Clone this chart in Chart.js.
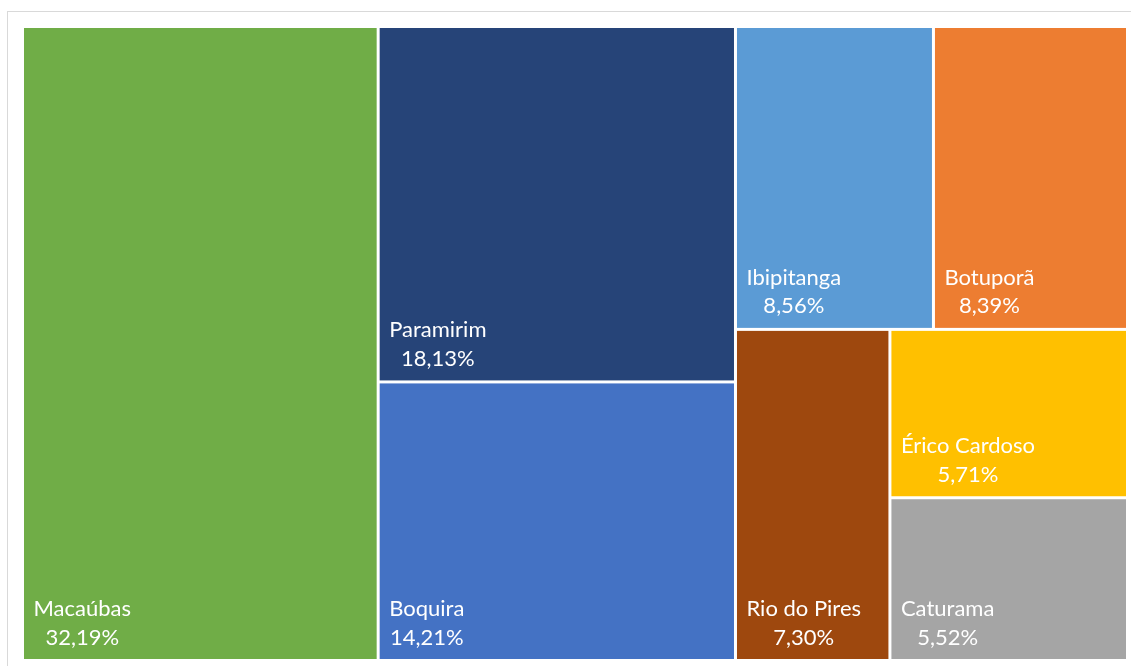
<!DOCTYPE html>
<html lang="pt-BR">
<head>
<meta charset="utf-8">
<script src="https://cdn.jsdelivr.net/npm/chart.js@4/dist/chart.umd.min.js"></script>
<style>
    html, body { margin: 0; padding: 0; background: #fff; overflow: hidden; }
    #frame {
        position: absolute; left: 7px; top: 11px;
        width: 1300px; height: 800px;
        border: 1px solid #d9d9d9;
    }
    #wrap { position: absolute; left: 0; top: 0; width: 1131px; height: 666px; }
</style>
</head>
<body>
<div id="frame"></div>
<div id="wrap"><canvas id="treemapChart"></canvas></div>
<script>
// Municípios e participação (%)
const categories = ["Macaúbas", "Paramirim", "Boquira", "Ibipitanga", "Botuporã", "Rio do Pires", "Érico Cardoso", "Caturama"];
const values = [32.19, 18.13, 14.21, 8.56, 8.39, 7.30, 5.71, 5.52];
const colors = ["#70AD47", "#264478", "#4472C4", "#5B9BD5", "#ED7D31", "#9E480E", "#FFC000", "#A5A5A5"];

// Agrupamento do treemap (h = lado a lado, v = empilhado), índices de categories
const groups = ["h", 0, ["v", 1, 2], ["v", ["h", 3, 4], ["h", 5, ["v", 6, 7]]]];

const sumOf = (node) => (typeof node === "number" ? values[node] : node.slice(1).reduce((s, n) => s + sumOf(n), 0));

// Calcula os retângulos em unidades de escala (0..100 nos dois eixos)
function buildRects(node, x0, y0, x1, y1, out) {
    if (typeof node === "number") {
        out.push({ i: node, x0, y0, x1, y1 });
        return out;
    }
    const dir = node[0];
    const kids = node.slice(1);
    const total = sumOf(node);
    let pos = dir === "h" ? x0 : y0;
    kids.forEach((k) => {
        const span = ((dir === "h" ? x1 - x0 : y1 - y0) * sumOf(k)) / total;
        if (dir === "h") buildRects(k, pos, y0, pos + span, y1, out);
        else buildRects(k, x0, pos, x1, pos + span, out);
        pos += span;
    });
    return out;
}

const fmt = (v) => v.toLocaleString("pt-BR", { minimumFractionDigits: 2, maximumFractionDigits: 2 }) + "%";

// Plugin que desenha as células através das escalas do gráfico
const treemapPlugin = {
    id: "treemapCells",
    afterDatasetsDraw(chart) {
        const { ctx, scales } = chart;
        const rects = buildRects(groups, 0, 0, 100, 100, []);
        const gap = 1.5;
        ctx.save();
        rects.forEach((r) => {
            const left = scales.x.getPixelForValue(r.x0) + gap;
            const right = scales.x.getPixelForValue(r.x1) - gap;
            const top = scales.y.getPixelForValue(r.y0) + gap;
            const bottom = scales.y.getPixelForValue(r.y1) - gap;
            ctx.fillStyle = colors[r.i];
            ctx.fillRect(left, top, right - left, bottom - top);

            // rótulos
            ctx.fillStyle = "#ffffff";
            ctx.font = "22px Lato, 'Open Sans', sans-serif";
            ctx.textBaseline = "alphabetic";
            ctx.textAlign = "left";
            const name = categories[r.i];
            const tx = left + 9.5;
            ctx.fillText(name, tx, bottom - 43);
            const w = ctx.measureText(name).width;
            ctx.textAlign = "center";
            ctx.fillText(fmt(values[r.i]), tx + w / 2, bottom - 14.5);
        });
        ctx.restore();
    },
};

new Chart(document.getElementById("treemapChart"), {
    type: "scatter",
    data: { datasets: [{ data: [] }] },
    options: {
        responsive: true,
        maintainAspectRatio: false,
        animation: false,
        layout: { padding: { left: 22.5, top: 26.5, right: 3.5, bottom: 5.5 } },
        plugins: { legend: { display: false }, tooltip: { enabled: false } },
        scales: {
            x: { type: "linear", min: 0, max: 100, display: false },
            y: { type: "linear", min: 0, max: 100, reverse: true, display: false },
        },
    },
    plugins: [treemapPlugin],
});
</script>
</body>
</html>
